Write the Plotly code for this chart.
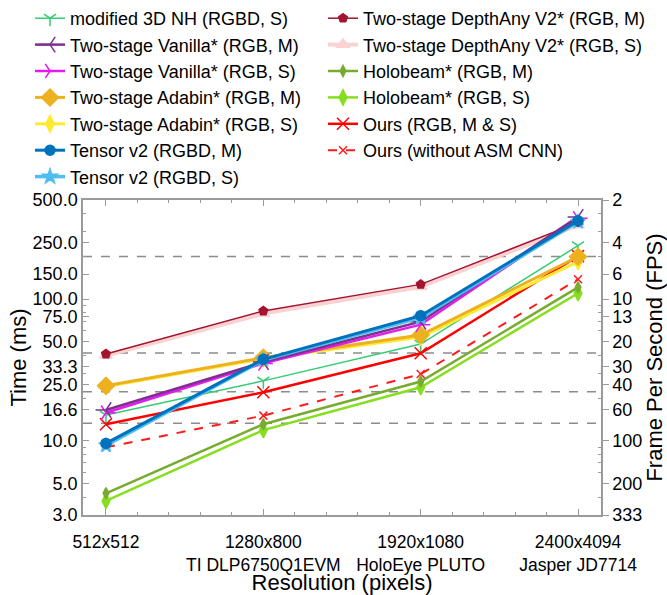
import math
import plotly.graph_objects as go

# ---------------- data ----------------
categories = ["512x512", "1280x800<br>TI DLP6750Q1EVM", "1920x1080<br>HoloEye PLUTO", "2400x4094<br>Jasper JD7714"]
x_pos = [1, 2, 3, 4]

nh3d_s        = [15.2, 26.5, 48.2, 238]
vanilla_m     = [16.5, 36.0, 69.3, 380]
vanilla_s     = [15.8, 35.2, 66.0, 371]
adabin_m      = [24.5, 38.6, 55.8, 199]
adabin_s      = [24.2, 38.0, 54.0, 184]
tensor_m      = [9.6, 37.6, 76.4, 357]
tensor_s      = [9.3, 37.2, 74.0, 351]
depthany_m    = [41.0, 82.4, 127, 346]
depthany_s    = [40.0, 79.0, 122, 333]
holobeam_m    = [4.27, 13.1, 26.2, 121]
holobeam_s    = [3.77, 11.9, 23.9, 110]
ours          = [13.1, 22.0, 41.5, 201]
ours_wo       = [9.0, 15.07, 29.6, 138]

ref_fps = [5, 24, 45, 75]

left_ticks = [3, 5, 10, 16.6, 25, 33.3, 50, 75, 100, 150, 250, 500]
left_ticktext = ["3.0", "5.0", "10.0", "16.6", "25.0", "33.3", "50.0", "75.0", "100.0", "150.0", "250.0", "500.0"]
right_ticktext = ["333", "200", "100", "60", "40", "30", "20", "13", "10", "6", "4", "2"]

FONT = "Liberation Sans, Arial, sans-serif"
AXC = "#9a9a9a"

fig = go.Figure()

def add(name, y, color, width, symbol, size, legend, rank, dash="solid", mlw=1.5):
    marker = dict(symbol=symbol, size=size, color=color,
                  line=dict(color=color, width=mlw))
    fig.add_trace(go.Scatter(
        x=x_pos, y=y, name=name, mode="lines+markers",
        line=dict(color=color, width=width, dash=dash),
        marker=marker, legend=legend, legendrank=rank))

# drawing order (legend order controlled by legendrank)
add("Two-stage DepthAny V2* (RGB, S)", depthany_s, "#FAD2D2", 4, "triangle-up", 11, "legend2", 2)
add("Two-stage DepthAny V2* (RGB, M)", depthany_m, "#A2142F", 1.5, "pentagon", 9, "legend2", 1)
add("Holobeam* (RGB, S)", holobeam_s, "#86DE1E", 2.5, "diamond-tall", 11, "legend2", 4)
add("Holobeam* (RGB, M)", holobeam_m, "#77AC30", 2.5, "diamond-tall", 8, "legend2", 3)
add("modified 3D NH (RGBD, S)", nh3d_s, "#33CC73", 1.5, "y-down", 10, "legend", 1)
add("Ours (without ASM CNN)", ours_wo, "#FF1A1A", 2, "x-thin-open", 8, "legend2", 6, dash="dash")
add("Ours (RGB, M & S)", ours, "#FF0000", 2.5, "x-thin-open", 12, "legend2", 5)
add("Two-stage Adabin* (RGB, S)", adabin_s, "#FFEA2E", 3, "diamond-tall", 12, "legend", 5)
add("Two-stage Adabin* (RGB, M)", adabin_m, "#EDB120", 3, "diamond", 13, "legend", 4)
add("Two-stage Vanilla* (RGB, S)", vanilla_s, "#E61AF0", 2.5, "y-right", 12, "legend", 3)
add("Two-stage Vanilla* (RGB, M)", vanilla_m, "#7E2F8E", 2.5, "y-left", 13, "legend", 2)
add("Tensor v2 (RGBD, S)", tensor_s, "#4DBEEE", 3.5, "star", 11, "legend", 7)
add("Tensor v2 (RGBD, M)", tensor_m, "#0072BD", 3, "circle", 10, "legend", 6)

# invisible trace to activate the right axis
fig.add_trace(go.Scatter(x=[x_pos[0]], y=[100], yaxis="y2", mode="markers",
                         marker=dict(opacity=0), showlegend=False, hoverinfo="skip"))

# reference dashed lines
for f in ref_fps:
    fig.add_shape(type="line", xref="paper", x0=0, x1=1, yref="y", y0=1000 / f, y1=1000 / f,
                  line=dict(color="#8c8c8c", width=1.5, dash="dash"), layer="below")

minor_left = [4, 6, 7, 8, 9, 20, 30, 40, 60, 70, 80, 90, 200, 300, 400]

fig.update_layout(
    width=667, height=595,
    margin=dict(l=83, r=66, t=200, b=80),
    paper_bgcolor="white", plot_bgcolor="white",
    font=dict(family=FONT, size=18, color="black"),
    showlegend=True,
    legend=dict(xref="paper", yref="container", x=-0.1023, y=1.0, xanchor="left", yanchor="top",
                bgcolor="rgba(0,0,0,0)", font=dict(size=18), tracegroupgap=0,
                traceorder="normal"),
    legend2=dict(xref="paper", yref="container", x=0.4633, y=1.0, xanchor="left", yanchor="top",
                 bgcolor="rgba(0,0,0,0)", font=dict(size=18), tracegroupgap=0,
                 traceorder="normal"),
    xaxis=dict(
        range=[0.854, 4.146], tickmode="array", tickvals=x_pos, ticktext=categories,
        tickfont=dict(size=17.5),
        showgrid=False, zeroline=False, showline=True, linecolor=AXC, linewidth=1.5,
        mirror="ticks", ticks="inside", ticklen=6, tickcolor=AXC,
        minor=dict(dtick=0.2, tick0=1, ticks="inside", ticklen=3, tickcolor=AXC),
        title=dict(text="Resolution (pixels)", standoff=4),
        ticklabelstandoff=10, automargin=False,
    ),
    yaxis=dict(
        type="log", range=[math.log10(3), math.log10(500)],
        tickmode="array", tickvals=left_ticks, ticktext=left_ticktext,
        showgrid=False, zeroline=False, showline=True, linecolor=AXC, linewidth=1.5,
        ticks="inside", ticklen=6, tickcolor=AXC,
        minor=dict(tickmode="array", tickvals=minor_left, ticks="inside", ticklen=3, tickcolor=AXC),
        title=dict(text="Time (ms)", standoff=0), automargin=False,
    ),
    yaxis2=dict(
        type="log", overlaying="y", side="right",
        range=[math.log10(1000 / 3), math.log10(2)],
        tickmode="array", tickvals=[1000 / v for v in left_ticks], ticktext=right_ticktext,
        showgrid=False, zeroline=False, showline=True, linecolor=AXC, linewidth=1.5,
        ticks="outside", ticklen=6, tickcolor=AXC,
        minor=dict(tickmode="array", tickvals=[1000 / v for v in minor_left], ticks="inside",
                   ticklen=3, tickcolor=AXC),
        title=dict(text="Frame Per Second (FPS)", standoff=2), automargin=False,
    ),
)

fig.write_html("out.html")
